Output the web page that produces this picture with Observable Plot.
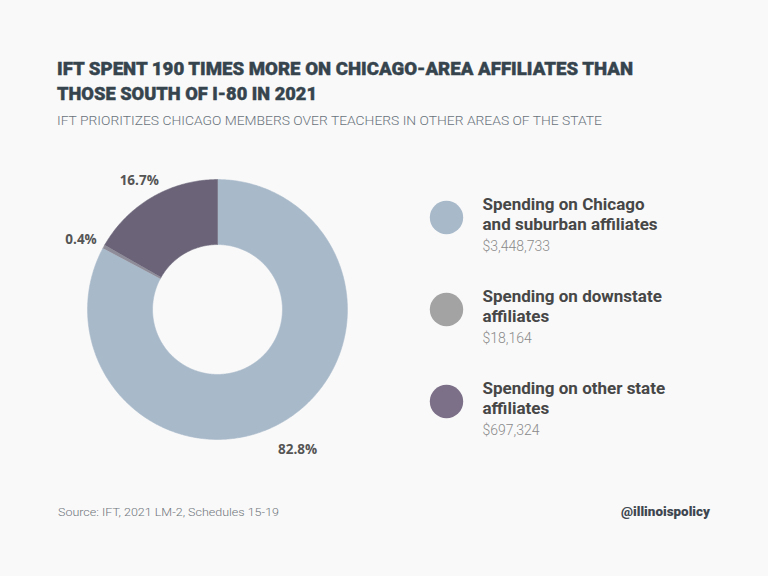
<!DOCTYPE html>
<html>
<head>
<meta charset="utf-8">
<script src="https://cdn.jsdelivr.net/npm/d3@7"></script>
<script src="https://cdn.jsdelivr.net/npm/@observablehq/plot@0.6"></script>
<style>
  html, body { margin: 0; padding: 0; background: #f9f9f9; }
  #page { position: relative; width: 768px; height: 576px; overflow: hidden; background: #f9f9f9; }
  #overlay { position: absolute; left: 0; top: 0; }
  #donut { position: absolute; left: 52px; top: 144px; }
  #legend { position: absolute; left: 410px; top: 180px; }
  svg { overflow: visible; }
</style>
</head>
<body>
<div id="page">
  <svg id="overlay" width="768" height="576" font-family="Roboto, sans-serif">
    <text x="57" y="75" font-size="18.5" font-weight="900" fill="#36444e" stroke="#36444e" stroke-width="0.4" textLength="576" lengthAdjust="spacingAndGlyphs">IFT SPENT 190 TIMES MORE ON CHICAGO-AREA AFFILIATES THAN</text>
    <text x="57" y="100" font-size="18.5" font-weight="900" fill="#36444e" stroke="#36444e" stroke-width="0.4" textLength="260" lengthAdjust="spacingAndGlyphs">THOSE SOUTH OF I-80 IN 2021</text>
    <text x="57" y="124.5" font-size="13" font-weight="300" fill="#69737c" textLength="545" lengthAdjust="spacingAndGlyphs">IFT PRIORITIZES CHICAGO MEMBERS OVER TEACHERS IN OTHER AREAS OF THE STATE</text>
    <text x="58" y="516" font-size="11.5" font-weight="300" fill="#6f757b" textLength="221" lengthAdjust="spacingAndGlyphs">Source: IFT, 2021 LM-2, Schedules 15-19</text>
    <text x="621" y="516" font-size="12.5" font-weight="900" fill="#3e4750" textLength="89" lengthAdjust="spacingAndGlyphs">@illinoispolicy</text>
  </svg>
  <div id="donut"></div>
  <div id="legend"></div>
</div>
<script>
// ---- data ----
const categories = [
  "Spending on Chicago\nand suburban affiliates",
  "Spending on downstate\naffiliates",
  "Spending on other state\naffiliates"
];
const values = [3448733, 18164, 697324];
const valueLabels = ["$3,448,733", "$18,164", "$697,324"];
const sliceColors = ["#a8b9ca", "#8e8c98", "#6b6479"];
const legendColors = ["#a8b9ca", "#a3a3a3", "#7c6f88"];

// ---- derived ----
const total = d3.sum(values);
const slices = d3.pie().sort(null).value(d => d.value)(
  categories.map((c, i) => ({ name: c, value: values[i], label: valueLabels[i] }))
);
const innerR = 0.5, outerR = 1, labelR = 1.2;
const ring = [];
for (const s of slices) {
  const n = Math.max(2, Math.ceil((s.endAngle - s.startAngle) / 0.01) + 1);
  const angles = d3.range(n).map(k => s.startAngle + (s.endAngle - s.startAngle) * k / (n - 1));
  for (const a of angles) ring.push({ name: s.data.name, x: outerR * Math.sin(a), y: outerR * Math.cos(a) });
  for (const a of angles.slice().reverse()) ring.push({ name: s.data.name, x: innerR * Math.sin(a), y: innerR * Math.cos(a) });
}
const labels = slices.map(s => {
  const m = (s.startAngle + s.endAngle) / 2;
  return { name: s.data.name, x: labelR * Math.sin(m), y: labelR * Math.cos(m), text: d3.format(".1%")(s.data.value / total) };
});

const donut = Plot.plot({
  width: 330, height: 330,
  margin: 0,
  x: { domain: [-1.27, 1.27], axis: null },
  y: { domain: [-1.27, 1.27], axis: null },
  color: { domain: categories, range: sliceColors },
  style: { background: "transparent", overflow: "visible" },
  marks: [
    Plot.line(ring, { x: "x", y: "y", z: "name", fill: "name", stroke: "name", strokeWidth: 0.6, curve: "linear" }),
    Plot.text(labels, { x: "x", y: "y", text: "text", dy: 6, fontSize: 13.5, fontWeight: 700, fontFamily: "Open Sans, sans-serif", fill: "#555555" })
  ]
});
document.getElementById("donut").appendChild(donut);

const legendData = categories.map((c, i) => ({ name: c, label: valueLabels[i], k: 0 }));
const legend = Plot.plot({
  width: 310, height: 270,
  margin: 0,
  x: { domain: [0, 1], range: [36, 300], axis: null },
  y: { type: "point", domain: categories, range: [37, 221], padding: 0, axis: null },
  color: { domain: categories, range: legendColors },
  style: { background: "transparent", overflow: "visible" },
  marks: [
    Plot.dot(legendData, { x: "k", y: "name", r: 16.7, fill: "name", stroke: null }),
    Plot.text(legendData, { x: "k", y: "name", text: "name", dx: 36, dy: -22, textAnchor: "start", lineAnchor: "top", lineHeight: 1.18, fontSize: 17, fontWeight: 700, fontFamily: "Roboto, sans-serif", fill: "#474747" }),
    Plot.text(legendData, { x: "k", y: "name", text: "label", dx: 36, dy: 24, textAnchor: "start", lineAnchor: "top", fontSize: 14, fontWeight: 300, fontFamily: "Roboto, sans-serif", fill: "#8a8a8a" })
  ]
});
document.getElementById("legend").appendChild(legend);
</script>
</body>
</html>
